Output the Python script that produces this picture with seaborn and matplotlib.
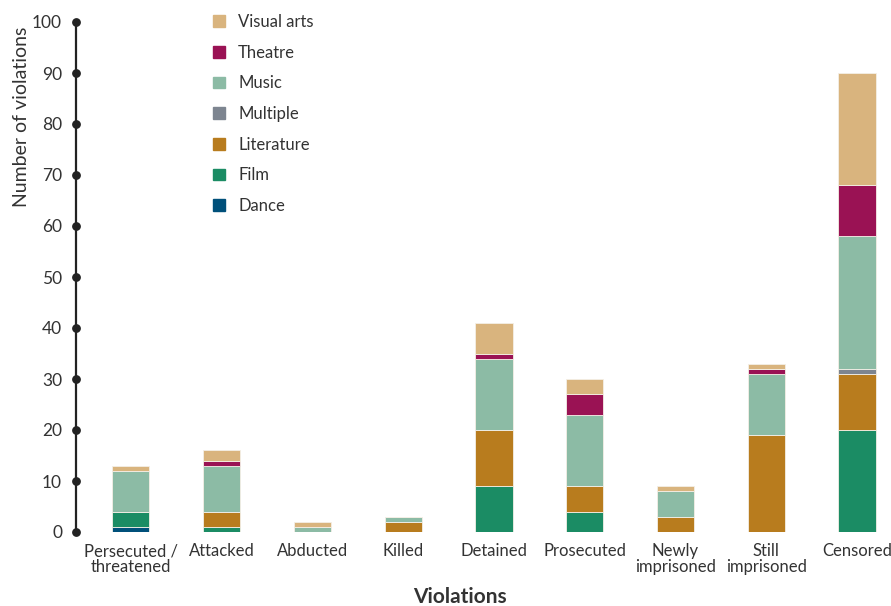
import matplotlib
matplotlib.use("Agg")
import matplotlib.pyplot as plt
import matplotlib.patches as mpatches
import numpy as np
import seaborn as sns

violations = ["Persecuted /\nthreatened", "Attacked", "Abducted", "Killed", "Detained",
              "Prosecuted", "Newly\nimprisoned", "Still\nimprisoned", "Censored"]

# stacked bottom to top
dance      = [1, 0, 0, 0, 0, 0, 0, 0, 0]
film       = [3, 1, 0, 0, 9, 4, 0, 0, 20]
literature = [0, 3, 0, 2, 11, 5, 3, 19, 11]
multiple   = [0, 0, 0, 0, 0, 0, 0, 0, 1]
music      = [8, 9, 1, 1, 14, 14, 5, 12, 26]
theatre    = [0, 1, 0, 0, 1, 4, 0, 1, 10]
visual     = [1, 2, 1, 0, 6, 3, 1, 1, 22]

layers = [
    ("Dance", dance, "#00507a"),
    ("Film", film, "#1b8c64"),
    ("Literature", literature, "#b87c1e"),
    ("Multiple", multiple, "#7d8590"),
    ("Music", music, "#8cbba5"),
    ("Theatre", theatre, "#9a1254"),
    ("Visual arts", visual, "#d9b47e"),
]

sns.set_theme(style="white")
plt.rcParams["font.family"] = ["Lato", "DejaVu Sans"]
txt = "#333333"

fig = plt.figure(figsize=(8.91, 6.06), dpi=100)
ax = fig.add_axes([76 / 891, 74 / 606, 815 / 891, 510 / 606])

bottom = np.zeros(len(violations))
for name, vals, col in layers:
    sns.barplot(x=violations, y=vals, bottom=bottom, color=col, width=0.41, saturation=1,
                errorbar=None, edgecolor="#f4efe6", linewidth=0.6, ax=ax)
    bottom += np.array(vals)

ax.set_ylim(0, 100)
ax.set_xlim(-0.604, 8.374)
ax.set_yticks(range(0, 101, 10))
for s in ["top", "right", "bottom"]:
    ax.spines[s].set_visible(False)
ax.spines["left"].set_color("#222222")
ax.spines["left"].set_linewidth(1.6)
ax.tick_params(axis="y", length=0, pad=10, labelsize=12.5, labelcolor=txt)
ax.tick_params(axis="x", length=0, pad=8, labelsize=12, labelcolor=txt)
for lab in ax.get_xticklabels():
    lab.set_linespacing(1.0)

# dots on the axis at each tick
ax.scatter(np.zeros(11), np.arange(0, 101, 10), transform=ax.get_yaxis_transform(),
           s=28, color="#222222", clip_on=False, zorder=5)

ax.set_ylabel("Number of violations", fontsize=14, color=txt, loc="top")
ax.yaxis.set_label_coords(-0.056, 0.99)
ax.set_xlabel("Violations", fontsize=15, fontweight="bold", color=txt, va="center")
ax.xaxis.set_label_coords(0.471, -0.127)

handles = [mpatches.Patch(color=c, label=n) for n, v, c in reversed(layers)]
ax.legend(handles=handles, loc="upper left", bbox_to_anchor=(0.15, 1.045), frameon=False,
          fontsize=12, labelcolor=txt, handlelength=0.7, handleheight=0.7,
          labelspacing=0.88, handletextpad=0.8)

fig.savefig("out.png", dpi=100)
